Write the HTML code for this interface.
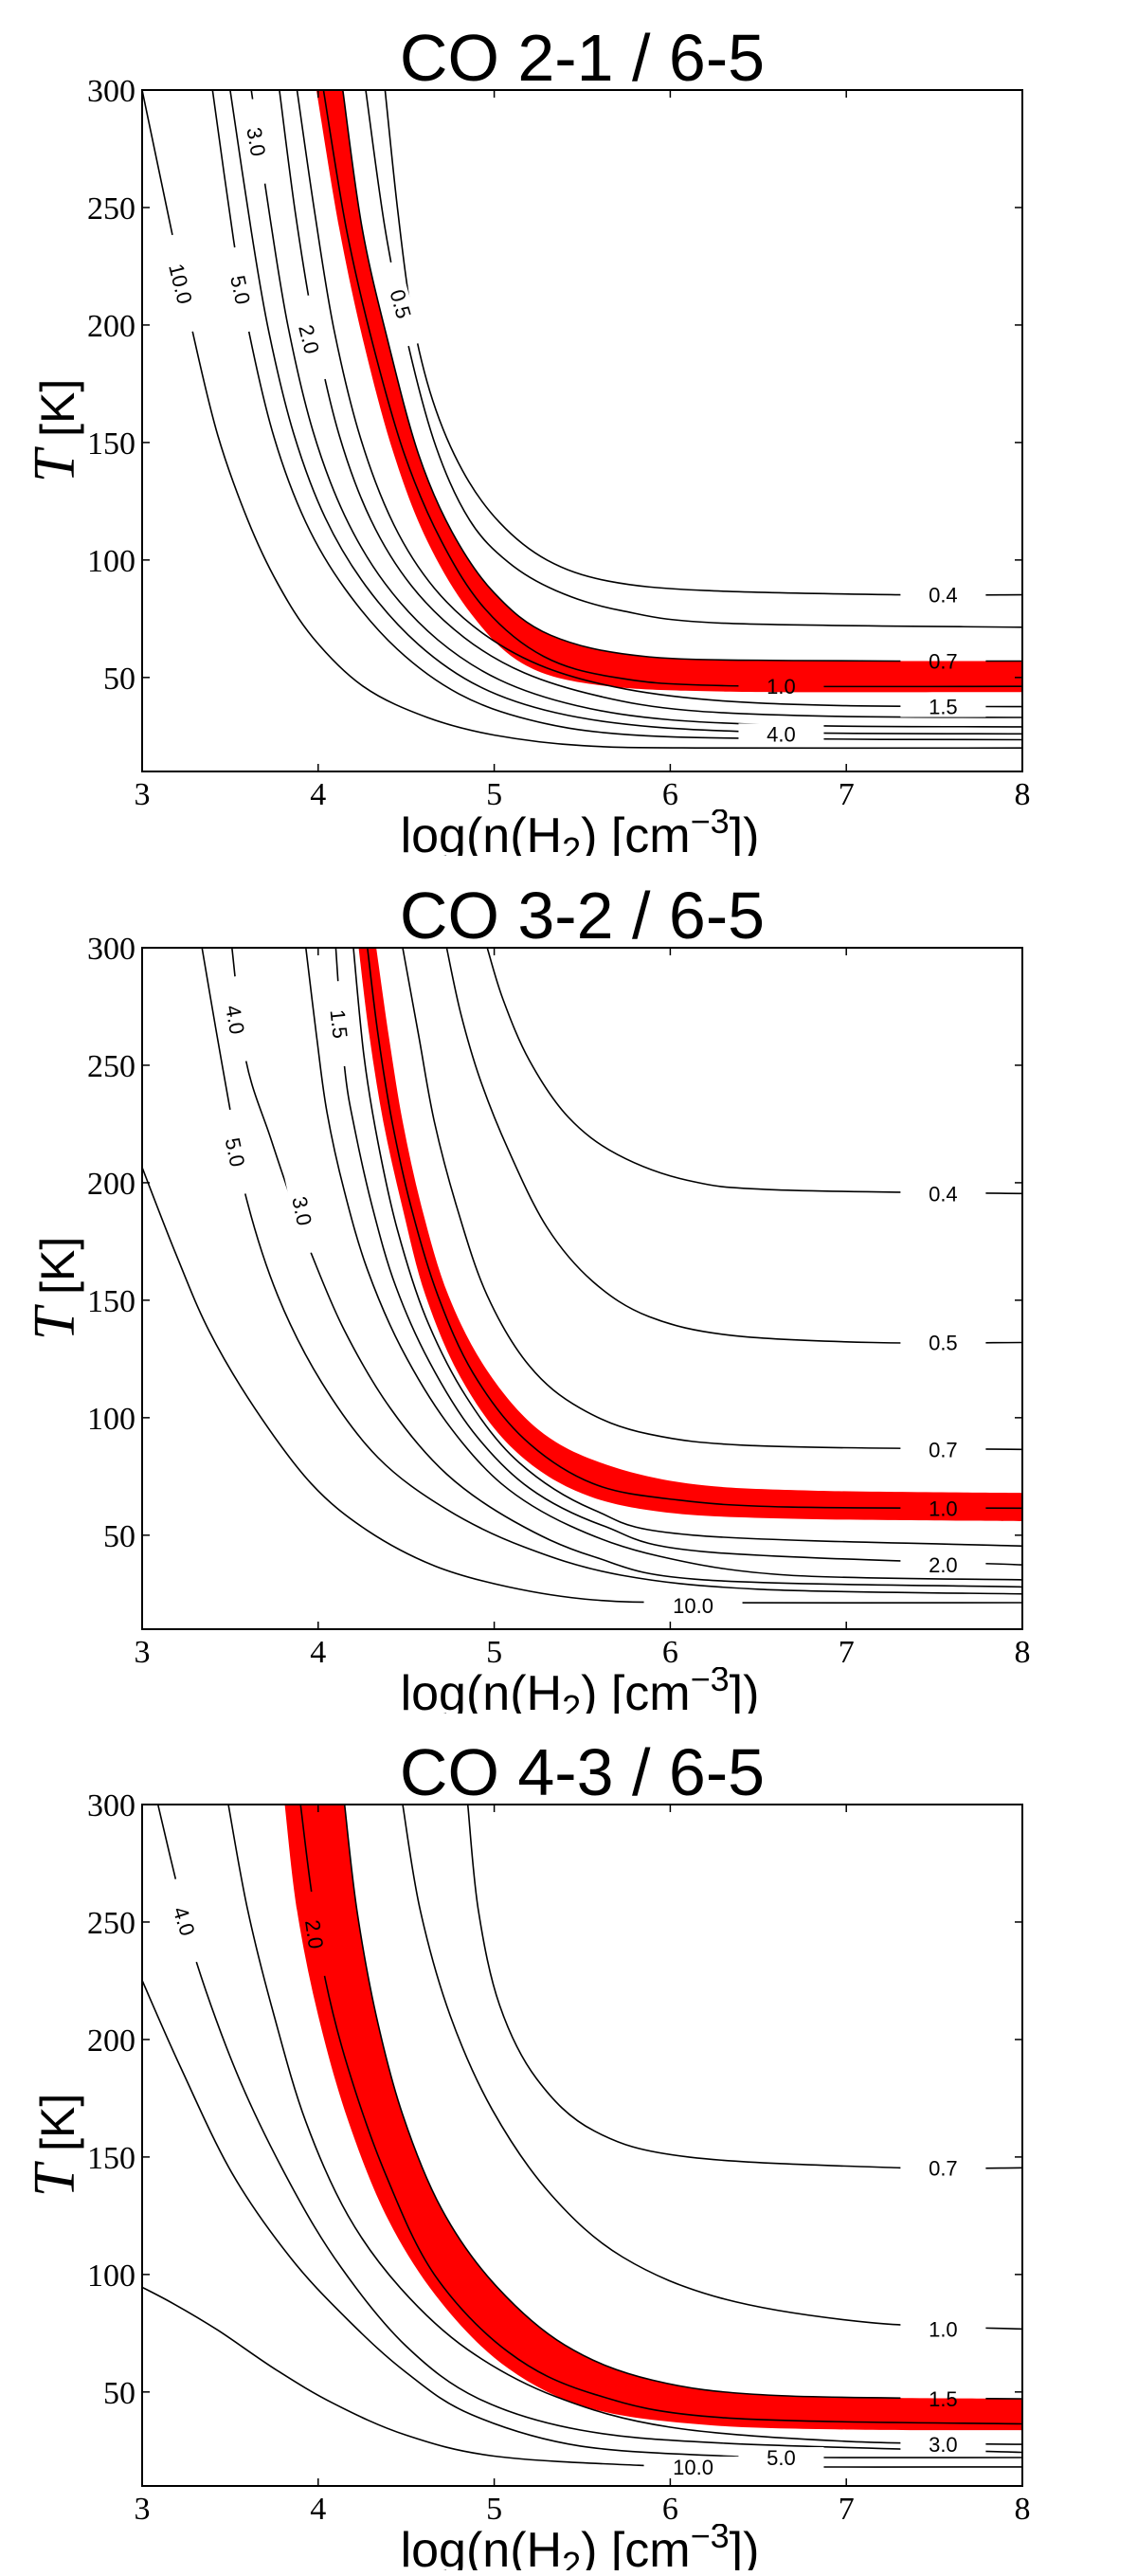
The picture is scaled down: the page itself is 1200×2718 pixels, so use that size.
<!DOCTYPE html>
<html><head><meta charset="utf-8"><style>
html,body{margin:0;padding:0;background:#fff;}
svg{display:block;}
</style></head><body>
<svg id="fig" width="1200" height="2718" viewBox="0 0 1200 2718" xmlns="http://www.w3.org/2000/svg"></svg>
<script>
// ---------- data (x = log n(H2), y = T [K]) ----------
const xTicks = [3,4,5,6,7,8];
const yTicks = [50,100,150,200,250,300];
const panelTitles = ["CO 2-1 / 6-5","CO 3-2 / 6-5","CO 4-3 / 6-5"];

// Panel 1 : CO 2-1 / 6-5
const p1_c10 = [[3.0,300],[3.17,239],[3.29,196],[3.43,153],[3.6,117],[3.77,90],[3.97,67],[4.26,46],[4.62,33],[5.0,25.5],[5.5,21],[6.2,20],[8,20]];
const p1_c5 = [[3.40,300],[3.52,236],[3.61,196],[3.75,152],[3.93,116],[4.15,88],[4.45,62],[4.8,43],[5.2,32],[5.7,26],[6.5,24],[8,23.5]];
const p1_c4 = [[3.50,300],[3.62,240],[3.72,197],[3.86,154],[4.04,118],[4.27,89],[4.57,64],[4.92,46],[5.35,35],[5.9,29],[6.7,26.5],[8,26]];
const p1_c3 = [[3.62,300],[3.73,244],[3.83,199],[3.97,155],[4.15,119],[4.38,90],[4.68,66],[5.03,49],[5.47,38],[6.0,32],[6.8,29.5],[8,29]];
const p1_c2 = [[3.78,300],[3.87,248],[3.98,198],[4.12,153],[4.3,117],[4.53,89],[4.83,67],[5.17,52],[5.6,42],[6.1,36],[6.9,33.5],[8,33]];
const p1_c15 = [[3.88,300],[3.98,248],[4.09,198],[4.24,152],[4.43,115],[4.66,88],[4.95,68],[5.3,54],[5.75,45],[6.3,40],[7,38],[8,37.6]];
const p1_c1 = [[4.03,300],[4.16,241],[4.31,192],[4.49,145],[4.7,108],[4.95,79],[5.28,59],[5.69,50],[6.31,46.5],[8,46.2]];
const p1_c07 = [[4.14,300],[4.25,241],[4.4,192],[4.57,145],[4.76,112],[5.0,86],[5.32,68],[5.85,59],[6.72,57.2],[8,57]];
const p1_c05 = [[4.27,300],[4.38,241],[4.51,192],[4.67,148],[4.86,117],[5.08,99],[5.35,87],[5.72,78.5],[6.31,73.1],[8,71.4]];
const p1_c04 = [[4.38,300],[4.45,250],[4.53,205],[4.65,168],[4.82,138],[5.03,116],[5.3,100],[5.65,91],[6.2,87],[7.3,85.2],[8,85.2]];
const p1_bandUpper = [[4.14,300],[4.25,241],[4.4,192],[4.57,145],[4.76,112],[5.0,86],[5.32,68],[5.85,59],[6.72,57.2],[8,57]];
const p1_bandLower = [[3.99,300],[4.12,241],[4.26,192],[4.43,145],[4.62,108],[4.87,77],[5.16,56],[5.57,47],[6.31,44],[8,43.8]];
const p1_labelText = ["10.0","5.0","3.0","2.0","0.5","0.4","0.7","1.0","1.5","4.0"];
const p1_labelX = [3.22,3.56,3.65,3.95,4.47,7.55,7.55,6.63,7.55,6.63];
const p1_labelT = [217.6,215,278,194,209,85.2,57,46.2,37.6,26];
const p1_labelRot = [76,78,80,76,74,0,0,0,0,0];

// Panel 2 : CO 3-2 / 6-5
const p2_c10 = [[3,206.5],[3.19,170],[3.38,137],[3.64,104],[3.96,72],[4.28,52],[4.66,37],[5.08,28],[5.56,22.5],[6.2,21.3],[8,21.3]];
const p2_c5 = [[3.34,300],[3.42,265],[3.5,231],[3.59,194],[3.77,152],[4.02,115],[4.34,83],[4.73,61],[5.17,45],[5.72,33],[6.51,27],[8,25]];
const p2_c4 = [[3.51,300],[3.59,252],[3.73,219],[3.86,190],[3.96,170],[4.15,137],[4.41,104],[4.73,76],[5.11,56],[5.56,41],[6.19,31],[8,28]];
const p2_c3 = [[3.93,300],[3.99,263],[4.05,230],[4.15,196],[4.28,163],[4.47,130],[4.73,98],[5.04,72],[5.43,54],[5.94,41],[6.67,33],[8,31]];
const p2_c2 = [[4.1,300],[4.15,249],[4.21,222],[4.31,189],[4.44,156],[4.63,124],[4.88,94],[5.2,70],[5.62,54],[6.19,43],[8,37.4]];
const p2_c15 = [[4.2,300],[4.26,254],[4.34,217],[4.45,180],[4.61,143],[4.84,109],[5.14,81],[5.56,61],[6.13,50],[8,45.4]];
const p2_c1 = [[4.28,300],[4.34,263],[4.42,226],[4.53,189],[4.68,152],[4.88,119],[5.17,91],[5.56,72],[6.04,65],[6.67,62],[8,61.5]];
const p2_c07 = [[4.48,300],[4.57,263],[4.66,226],[4.79,189],[4.96,152],[5.2,122],[5.49,104],[5.88,93],[6.51,88],[8,86.5]];
const p2_c05 = [[4.73,300],[4.81,272],[4.92,244],[5.08,214],[5.3,181],[5.56,158],[5.88,143],[6.35,135],[7.15,132],[8,132]];
const p2_c04 = [[4.96,300],[5.05,278],[5.2,252],[5.42,228],[5.7,212],[6.1,201],[6.6,197],[8,195.4]];
const p2_bandUpper = [[4.33,300],[4.4,263],[4.48,226],[4.59,189],[4.74,152],[4.96,120],[5.25,95],[5.6,81],[6.1,72],[6.8,69],[8,68]];
const p2_bandLower = [[4.23,300],[4.29,263],[4.37,226],[4.48,189],[4.61,152],[4.81,117],[5.09,88],[5.46,69],[5.94,60],[6.7,57],[8,56]];
const p2_labelText = ["4.0","5.0","1.5","3.0","0.4","0.5","0.7","1.0","2.0","10.0"];
const p2_labelX = [3.53,3.53,4.12,3.91,7.55,7.55,7.55,7.55,7.55,6.13];
const p2_labelT = [269.4,213,267.6,188,195.4,132,86.5,61.5,37.4,20];
const p2_labelRot = [80,78,84,78,0,0,0,0,0,0];

// Panel 3 : CO 4-3 / 6-5
const p3_c10 = [[3.0,94.6],[3.18,87.5],[3.43,76.3],[3.76,59.5],[4.09,45],[4.5,31.6],[5.0,22.7],[5.82,18.8],[6.41,18.1],[8,18.1]];
const p3_c5 = [[3,225.2],[3.22,187.9],[3.51,143.2],[3.84,107.4],[4.17,80.6],[4.5,58.3],[4.87,40.4],[5.49,27],[6.39,22.5],[6.88,22.1],[8,22.1]];
const p3_c4 = [[3.09,300],[3.19,268.3],[3.31,232.6],[3.55,183.5],[3.84,138.8],[4.13,103],[4.5,69.5],[4.91,47.2],[5.49,33.8],[6.31,28.2],[8,24.3]];
const p3_c3 = [[3.49,300],[3.6,255],[3.75,210],[3.93,165],[4.17,125],[4.47,94],[4.85,68],[5.35,48],[6.0,35],[7,29],[8,27.7]];
const p3_c2 = [[3.9,300],[3.96,263.8],[4.04,225.8],[4.17,187.8],[4.38,143.2],[4.66,100],[5.08,67],[5.57,49],[6.31,39],[8,36.4]];
const p3_c15 = [[4.15,300],[4.22,255],[4.33,210],[4.48,168],[4.7,128],[5.0,96],[5.4,70],[5.9,55],[6.6,48.5],[8,47.1]];
const p3_c1 = [[4.48,300],[4.58,254.9],[4.75,210.2],[4.99,170],[5.32,134.2],[5.73,107.4],[6.31,89.5],[7.14,79.5],[8,76.8]];
const p3_c07 = [[4.85,300],[4.91,254.9],[5.03,214.7],[5.24,183.4],[5.57,161],[6.11,149.9],[7.3,145.4],[8,145.4]];
const p3_bandUpper = [[4.15,300],[4.22,255],[4.33,210],[4.48,168],[4.7,128],[5.0,96],[5.4,70],[5.9,55],[6.6,48.5],[8,47.1]];
const p3_bandLower = [[3.81,300],[3.88,254.9],[4.0,210.2],[4.17,165.5],[4.4,123],[4.7,88],[5.08,60],[5.55,43],[6.2,36],[7,34],[8,33.7]];
const p3_labelText = ["4.0","2.0","0.7","1.0","1.5","3.0","5.0","10.0"];
const p3_labelX = [3.24,3.98,7.55,7.55,7.55,7.55,6.63,6.13];
const p3_labelT = [250.4,244.8,145.4,76.8,47.1,27.7,22.1,18.1];
const p3_labelRot = [72,82,0,0,0,0,0,0];

// ---------- rendering ----------
const NS = "http://www.w3.org/2000/svg";
const svg = document.getElementById('fig');
const PL = 150, PR = 1079, PH = 719;
const panelTops = [95, 1000, 1904];
function X(v){ return PL + (v - 3) * (PR - PL) / 5; }
function Y(t, y0){ return y0 + (300 - t) * PH / 290; }
function el(tag, attrs, parent){
  const e = document.createElementNS(NS, tag);
  for (const k in attrs) e.setAttribute(k, attrs[k]);
  (parent || svg).appendChild(e);
  return e;
}
function smooth(pts){
  let d = "M" + pts[0][0].toFixed(1) + "," + pts[0][1].toFixed(1);
  for (let i = 0; i < pts.length - 1; i++){
    const p0 = pts[i-1] || pts[i], p1 = pts[i], p2 = pts[i+1], p3 = pts[i+2] || pts[i+1];
    const c1x = p1[0] + (p2[0]-p0[0])/6, c1y = p1[1] + (p2[1]-p0[1])/6;
    const c2x = p2[0] - (p3[0]-p1[0])/6, c2y = p2[1] - (p3[1]-p1[1])/6;
    d += " C" + c1x.toFixed(1)+","+c1y.toFixed(1)+" "+c2x.toFixed(1)+","+c2y.toFixed(1)+" "+p2[0].toFixed(1)+","+p2[1].toFixed(1);
  }
  return d;
}
function toPx(arr, y0){ return arr.map(p => [X(p[0]), Y(p[1], y0)]); }

const panels = [
  {curves:[p1_c10,p1_c5,p1_c4,p1_c3,p1_c2,p1_c15,p1_c1,p1_c07,p1_c05,p1_c04], names:["10.0","5.0","4.0","3.0","2.0","1.5","1.0","0.7","0.5","0.4"],
   up:p1_bandUpper, lo:p1_bandLower, lt:p1_labelText, lx:p1_labelX, ly:p1_labelT, lr:p1_labelRot},
  {curves:[p2_c10,p2_c5,p2_c4,p2_c3,p2_c2,p2_c15,p2_c1,p2_c07,p2_c05,p2_c04], names:["10.0","5.0","4.0","3.0","2.0","1.5","1.0","0.7","0.5","0.4"],
   up:p2_bandUpper, lo:p2_bandLower, lt:p2_labelText, lx:p2_labelX, ly:p2_labelT, lr:p2_labelRot},
  {curves:[p3_c10,p3_c5,p3_c4,p3_c3,p3_c2,p3_c15,p3_c1,p3_c07], names:["10.0","5.0","4.0","3.0","2.0","1.5","1.0","0.7"],
   up:p3_bandUpper, lo:p3_bandLower, lt:p3_labelText, lx:p3_labelX, ly:p3_labelT, lr:p3_labelRot}
];

const defs = el('defs', {});
panels.forEach((P, i) => {
  const y0 = panelTops[i];
  const g = el('g', {});
  
  

  const t = el('text', {x: 614.5, y: y0 - 10, 'text-anchor':'middle', 'font-family':'"Liberation Sans", sans-serif', 'font-size':70, fill:'#000'}, g);
  t.textContent = panelTitles[i];
  
  

  const clip = el('clipPath', {id:'clip'+i}, defs);
  el('rect', {x:PL, y:y0, width:PR-PL, height:PH}, clip);
  const mask = el('mask', {id:'mask'+i, maskUnits:'userSpaceOnUse', x:0, y:0, width:1200, height:2718}, defs);
  el('rect', {x:0, y:0, width:1200, height:2718, fill:'#fff'}, mask);

  const plot = el('g', {'clip-path':'url(#clip'+i+')'}, g);
  
  

  const up = toPx(P.up, y0), lo = toPx(P.lo, y0).reverse();
  const bd = smooth(up) + " L" + smooth(lo).slice(1) + " Z";
  const band = el('path', {d: bd, fill:'#ff0000', stroke:'none'}, plot);
  
  

  const lines = el('g', {mask:'url(#mask'+i+')', fill:'none', stroke:'#000', 'stroke-width':1.6}, plot);
  P.curves.forEach((c, k) => {
    const p = el('path', {d: smooth(toPx(c, y0))}, lines);
    
    
  });

  P.lt.forEach((txt, k) => {
    const cx = X(P.lx[k]), cy = Y(P.ly[k], y0), rot = P.lr[k];
    const w = txt.length > 3 ? 104 : 90;
    el('rect', {x: cx - w/2, y: cy - 11, width: w, height: 22, fill:'#000', transform:'rotate('+rot+' '+cx+' '+cy+')'}, mask);
    const lb = el('text', {x: cx, y: cy + 8, 'text-anchor':'middle', 'font-family':'"Liberation Sans", sans-serif', 'font-size':22, fill:'#000', transform:'rotate('+rot+' '+cx+' '+cy+')'}, plot);
    lb.textContent = txt;
    
    
  });

  const fr = el('rect', {x:PL, y:y0, width:PR-PL, height:PH, fill:'none', stroke:'#000', 'stroke-width':2}, g);
  
  

  const tk = el('g', {stroke:'#000', 'stroke-width':1.5}, g);
  xTicks.forEach(v => {
    const x = X(v);
    el('line', {x1:x, y1:y0+PH, x2:x, y2:y0+PH-8}, tk);
    el('line', {x1:x, y1:y0, x2:x, y2:y0+8}, tk);
    const tl = el('text', {x:x, y:y0+PH+35, 'text-anchor':'middle', 'font-family':'"Liberation Serif", serif', 'font-size':34, fill:'#000', stroke:'none'}, g);
    tl.textContent = v;
    
    
  });
  yTicks.forEach(v => {
    const y = Y(v, y0);
    el('line', {x1:PL, y1:y, x2:PL+8, y2:y}, tk);
    el('line', {x1:PR, y1:y, x2:PR-8, y2:y}, tk);
    const tl = el('text', {x:143, y:y+12, 'text-anchor':'end', 'font-family':'"Liberation Serif", serif', 'font-size':34, fill:'#000'}, g);
    tl.textContent = v;
    
    
  });

  const xc = el('clipPath', {id:'xclip'+i}, defs);
  el('rect', {x:0, y:y0+PH+40, width:1200, height:49}, xc);
  const xt = el('text', {x:612, y:y0+PH+85, 'text-anchor':'middle', 'font-family':'"Liberation Sans", sans-serif', 'font-size':52, fill:'#000', 'clip-path':'url(#xclip'+i+')'}, g);
  xt.innerHTML = 'log(n(H<tspan font-size="36" dy="10">2</tspan><tspan dy="-10">) [cm</tspan><tspan font-size="36" dy="-20">−3</tspan><tspan dy="20">])</tspan>';
  
  

  const yc = y0 + PH/2;
  const yt = el('text', {x:0, y:0, 'text-anchor':'middle', transform:'translate(78,'+yc+') rotate(-90)', fill:'#000'}, g);
  yt.innerHTML = '<tspan font-family="Liberation Serif, serif" font-style="italic" font-size="62">T</tspan><tspan font-family="Liberation Sans, sans-serif" font-size="50"> [K]</tspan>';
  
  
});
</script>
</body></html>
